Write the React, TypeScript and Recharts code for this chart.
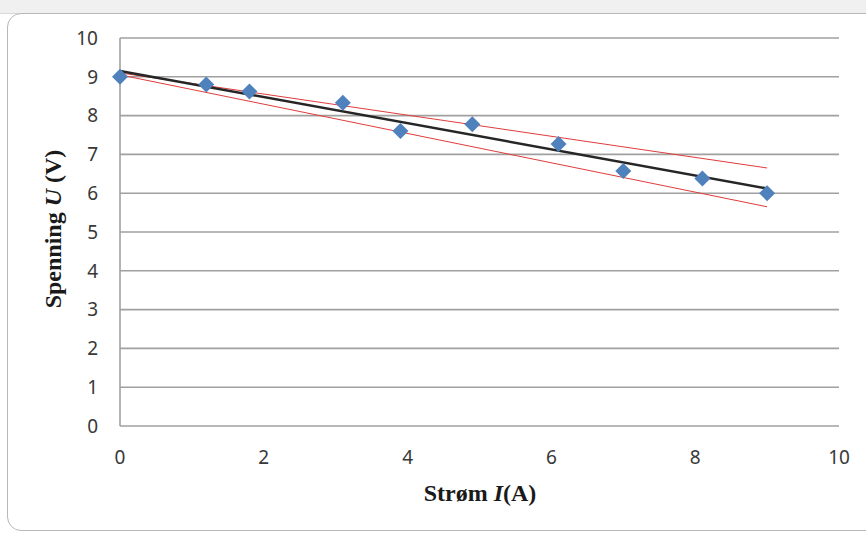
import {
  ComposedChart,
  Scatter,
  Line,
  XAxis,
  YAxis,
  CartesianGrid,
} from "recharts";

// measured current I (A) and voltage U (V)
const currents = [0, 1.2, 1.8, 3.1, 3.9, 4.9, 6.1, 7.0, 8.1, 9.0];
const voltages = [9.0, 8.8, 8.62, 8.33, 7.6, 7.78, 7.27, 6.57, 6.38, 6.0];

// fitted line and the two limit lines (endpoints at I = 0 and I = 9)
const lineI = [0, 9];
const fitU = [9.15, 6.12];
const upperU = [9.1, 6.65];
const lowerU = [9.05, 5.65];

const xTicks = [0, 2, 4, 6, 8, 10];
const yTicks = [0, 1, 2, 3, 4, 5, 6, 7, 8, 9, 10];

const points = currents.map((i, k) => ({ i, u: voltages[k] }));
const toLine = (us: number[]) => lineI.map((i, k) => ({ i, u: us[k] }));

const tickStyle = { fontSize: 19, fill: "#383838", fontFamily: "Noto Sans" };

function Diamond(props: any) {
  const { cx, cy } = props;
  const r = 8;
  return (
    <polygon
      points={`${cx},${cy - r} ${cx + r},${cy} ${cx},${cy + r} ${cx - r},${cy}`}
      fill="#4f81bd"
    />
  );
}

const titleStyle = {
  position: "absolute" as const,
  fontFamily: "Liberation Serif",
  fontWeight: "bold" as const,
  fontSize: 24,
  color: "#1a1a1a",
  whiteSpace: "nowrap" as const,
};

export default function App() {
  return (
    <div style={{ position: "absolute", left: 0, top: 0, width: 866, height: 533, background: "#fff", overflow: "hidden" }}>
      <div style={{ position: "absolute", left: 0, top: 0, width: 866, height: 13, background: "#f0f0f0", borderBottom: "1px solid #d8d8d8" }} />
      <div
        style={{
          position: "absolute",
          left: 7,
          top: 13,
          width: 880,
          height: 516,
          border: "1.5px solid #b8b8b8",
          borderRadius: 14,
          background: "#fff",
        }}
      />
      <div style={{ position: "absolute", left: 0, top: 0 }}>
        <ComposedChart width={866} height={533} margin={{ top: 38, right: 27, left: 60, bottom: 77 }}>
          <CartesianGrid vertical={false} stroke="#a0a0a0" strokeWidth={1.6} />
          <XAxis
            type="number"
            dataKey="i"
            domain={[0, 10]}
            ticks={xTicks}
            axisLine={false}
            tickLine={false}
            tickSize={0}
            tickMargin={25}
            height={30}
            tick={tickStyle}
          />
          <YAxis
            type="number"
            dataKey="u"
            domain={[0, 10]}
            ticks={yTicks}
            axisLine={{ stroke: "#a0a0a0", strokeWidth: 1.6 }}
            tickLine={false}
            tickSize={0}
            tickMargin={22}
            width={60}
            tick={tickStyle}
          />
          <Line data={toLine(upperU)} dataKey="u" stroke="#e03c3c" strokeWidth={1} dot={false} isAnimationActive={false} />
          <Line data={toLine(lowerU)} dataKey="u" stroke="#e03c3c" strokeWidth={1} dot={false} isAnimationActive={false} />
          <Line data={toLine(fitU)} dataKey="u" stroke="#262626" strokeWidth={2.5} dot={false} isAnimationActive={false} />
          <Scatter data={points} dataKey="u" shape={<Diamond />} isAnimationActive={false} />
        </ComposedChart>
      </div>
      <div style={{ ...titleStyle, left: 480, top: 493, transform: "translate(-50%, -50%)" }}>
        Strøm <i>I</i>(A)
      </div>
      <div style={{ ...titleStyle, left: 53, top: 229, transform: "translate(-50%, -50%) rotate(-90deg)" }}>
        Spenning <i>U</i> (V)
      </div>
    </div>
  );
}
